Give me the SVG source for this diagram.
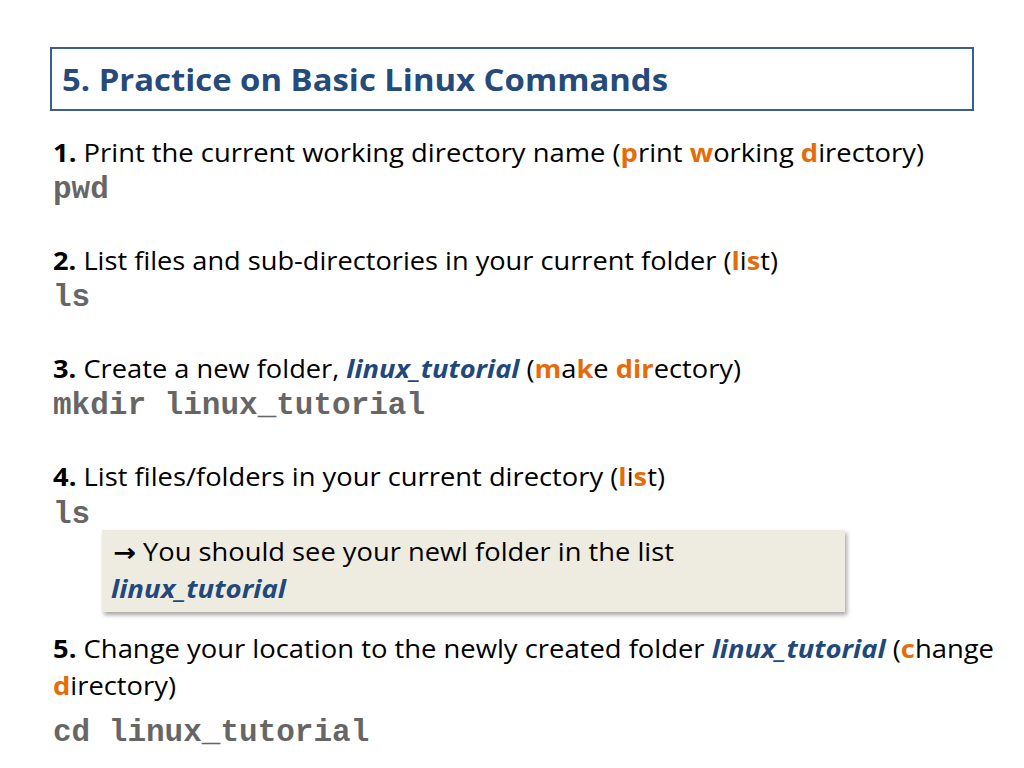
<svg xmlns="http://www.w3.org/2000/svg" width="1024" height="768" viewBox="0 0 1024 768">
<style>
.t{font-family:"Open Sans","Liberation Sans",sans-serif;font-size:25px;fill:#000}
.b{font-weight:bold}
.o{fill:#E46C0A;font-weight:bold}
.bl{fill:#1F497D;font-weight:bold;font-style:italic}
.m{font-family:"Liberation Mono",monospace;font-size:31px;font-weight:bold;fill:#666}
</style>
<defs><filter id="sh" x="-5%" y="-10%" width="110%" height="130%"><feDropShadow dx="2" dy="3" stdDeviation="2" flood-color="#000" flood-opacity="0.35"/></filter></defs>
<rect width="1024" height="768" fill="#fff"/>
<g id="title">
<rect x="51" y="48" width="922" height="62" fill="#fff" stroke="#3A5F8F" stroke-width="2"/>
<text x="62" y="91" font-family="Open Sans,Liberation Sans,sans-serif" font-size="31" font-weight="bold" fill="#254A7C" textLength="606" lengthAdjust="spacingAndGlyphs">5. Practice on Basic Linux Commands</text>
</g>
<g id="step1">
<text class="t" x="53" y="162" textLength="871" lengthAdjust="spacingAndGlyphs"><tspan class="b">1.</tspan> Print the current working directory name (<tspan class="o">p</tspan>rint <tspan class="o">w</tspan>orking <tspan class="o">d</tspan>irectory)</text>
<text class="m" x="53" y="198">pwd</text>
</g>
<g id="step2">
<text class="t" x="53" y="270" textLength="725" lengthAdjust="spacingAndGlyphs"><tspan class="b">2.</tspan> List files and sub-directories in your current folder (<tspan class="o">l</tspan>i<tspan class="o">s</tspan>t)</text>
<text class="m" x="53" y="306">ls</text>
</g>
<g id="step3">
<text class="t" x="53" y="378" textLength="688" lengthAdjust="spacingAndGlyphs"><tspan class="b">3.</tspan> Create a new folder, <tspan class="bl">linux_tutorial</tspan> (<tspan class="o">m</tspan>a<tspan class="o">k</tspan>e <tspan class="o">dir</tspan>ectory)</text>
<text class="m" x="53" y="414">mkdir linux_tutorial</text>
</g>
<g id="step4">
<text class="t" x="53" y="486" textLength="612" lengthAdjust="spacingAndGlyphs"><tspan class="b">4.</tspan> List files/folders in your current directory (<tspan class="o">l</tspan>i<tspan class="o">s</tspan>t)</text>
<text class="m" x="53" y="523">ls</text>
</g>
<g id="note">
<rect x="102" y="530" width="743" height="82" fill="#EEECE1" filter="url(#sh)"/>
<text class="t" x="113" y="561" textLength="561" lengthAdjust="spacingAndGlyphs"><tspan font-family="DejaVu Sans,sans-serif" font-weight="bold">→</tspan> You should see your newl folder in the list</text>
<text class="t bl" x="111" y="598" textLength="175" lengthAdjust="spacingAndGlyphs">linux_tutorial</text>
</g>
<g id="step5">
<text class="t" x="53" y="658" textLength="941" lengthAdjust="spacingAndGlyphs"><tspan class="b">5.</tspan> Change your location to the newly created folder <tspan class="bl">linux_tutorial</tspan> (<tspan class="o">c</tspan>hange</text>
<text class="t" x="53" y="695" textLength="123" lengthAdjust="spacingAndGlyphs"><tspan class="o">d</tspan>irectory)</text>
<text class="m" x="53" y="741">cd linux_tutorial</text>
</g>
<g id="connectors"/>
</svg>
